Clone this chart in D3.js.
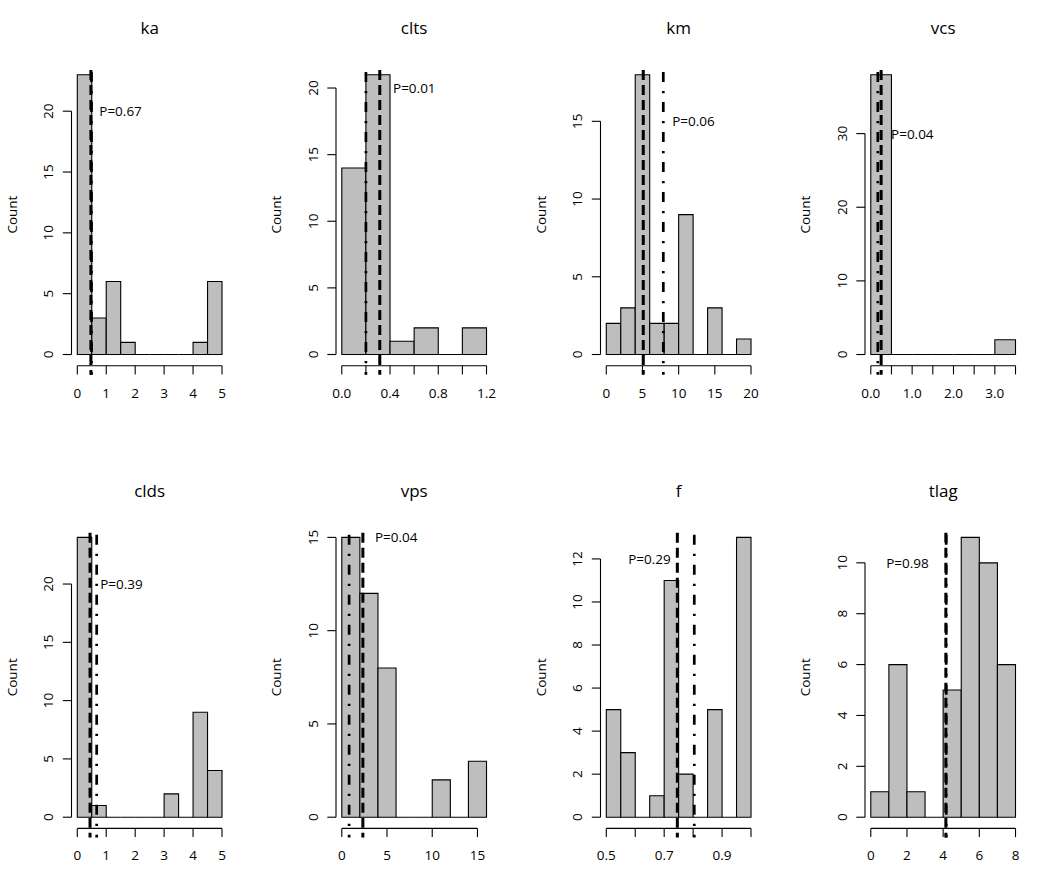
<!DOCTYPE html>
<html>
<head>
<meta charset="utf-8">
<script src="https://cdn.jsdelivr.net/npm/d3@7"></script>
<style>
  html, body { margin: 0; padding: 0; background: #fff; }
  svg { display: block; }
  text { font-family: "Open Sans", "DejaVu Sans", sans-serif; fill: #000; }
</style>
</head>
<body>
<svg id="chart" width="1050" height="891"></svg>
<script>
// ---------- data ----------
const panelNames = ["ka", "clts", "km", "vcs", "clds", "vps", "f", "tlag"];

const kaBreaks   = [0, 0.5, 1, 1.5, 2, 2.5, 3, 3.5, 4, 4.5, 5];
const kaCounts   = [23, 3, 6, 1, 0, 0, 0, 0, 1, 6];
const cltsBreaks = [0, 0.2, 0.4, 0.6, 0.8, 1.0, 1.2];
const cltsCounts = [14, 21, 1, 2, 0, 2];
const kmBreaks   = [0, 2, 4, 6, 8, 10, 12, 14, 16, 18, 20];
const kmCounts   = [2, 3, 18, 2, 2, 9, 0, 3, 0, 1];
const vcsBreaks  = [0, 0.5, 1, 1.5, 2, 2.5, 3, 3.5];
const vcsCounts  = [38, 0, 0, 0, 0, 0, 2];
const cldsBreaks = [0, 0.5, 1, 1.5, 2, 2.5, 3, 3.5, 4, 4.5, 5];
const cldsCounts = [24, 1, 0, 0, 0, 0, 2, 0, 9, 4];
const vpsBreaks  = [0, 2, 4, 6, 8, 10, 12, 14, 16];
const vpsCounts  = [15, 12, 8, 0, 0, 2, 0, 3];
const fBreaks    = [0.5, 0.55, 0.6, 0.65, 0.7, 0.75, 0.8, 0.85, 0.9, 0.95, 1.0];
const fCounts    = [5, 3, 0, 1, 11, 2, 0, 5, 0, 13];
const tlagBreaks = [0, 1, 2, 3, 4, 5, 6, 7, 8];
const tlagCounts = [1, 6, 1, 0, 5, 11, 10, 6];

// vertical reference lines: dashed and dot-dash
const dashedValues  = [0.47, 0.315, 5.11, 0.25, 0.44, 2.33, 0.7455, 4.15];
const dotDashValues = [0.49, 0.2, 7.88, 0.17, 0.67, 0.81, 0.804, 4.17];

// P-value labels
const pLabels  = ["P=0.67", "P=0.01", "P=0.06", "P=0.04", "P=0.39", "P=0.04", "P=0.29", "P=0.98"];
const pLabelX  = [0.76, 0.425, 9.1, 0.49, 0.79, 3.66, 0.7227, 0.85];
const pLabelY  = [20, 20, 15, 30, 20, 15, 12, 10];
const pAnchor  = ["start", "start", "start", "start", "start", "start", "end", "start"];

// axis ticks
const xTicks = [
  [0, 1, 2, 3, 4, 5],
  [0, 0.2, 0.4, 0.6, 0.8, 1.0, 1.2],
  [0, 5, 10, 15, 20],
  [0, 0.5, 1, 1.5, 2, 2.5, 3, 3.5],
  [0, 1, 2, 3, 4, 5],
  [0, 5, 10, 15],
  [0.5, 0.6, 0.7, 0.8, 0.9, 1.0],
  [0, 2, 4, 6, 8]
];
const xTickLabels = [
  ["0", "1", "2", "3", "4", "5"],
  ["0.0", "", "0.4", "", "0.8", "", "1.2"],
  ["0", "5", "10", "15", "20"],
  ["0.0", "", "1.0", "", "2.0", "", "3.0", ""],
  ["0", "1", "2", "3", "4", "5"],
  ["0", "5", "10", "15"],
  ["0.5", "", "0.7", "", "0.9", ""],
  ["0", "2", "4", "6", "8"]
];
const yTicks = [
  [0, 5, 10, 15, 20],
  [0, 5, 10, 15, 20],
  [0, 5, 10, 15],
  [0, 10, 20, 30],
  [0, 5, 10, 15, 20],
  [0, 5, 10, 15],
  [0, 2, 4, 6, 8, 10, 12],
  [0, 2, 4, 6, 8, 10]
];

const allBreaks = [kaBreaks, cltsBreaks, kmBreaks, vcsBreaks, cldsBreaks, vpsBreaks, fBreaks, tlagBreaks];
const allCounts = [kaCounts, cltsCounts, kmCounts, vcsCounts, cldsCounts, vpsCounts, fCounts, tlagCounts];

// ---------- layout ----------
const svg = d3.select("#chart");
const plotLeft0 = 71.5, colStep = 264.5, plotW = 156.3;
const plotTop0 = 63.5, rowStep = 462.7, plotH = 302.2;
const tickLen = 8.7;
const tickFont = 13.5;

panelNames.forEach((name, i) => {
  const col = i % 4, row = Math.floor(i / 4);
  const L = plotLeft0 + col * colStep;
  const T = plotTop0 + row * rowStep;
  const B = T + plotH, R = L + plotW;

  const breaks = allBreaks[i], counts = allCounts[i];
  const xmin = breaks[0], xmax = breaks[breaks.length - 1];
  const xr = xmax - xmin;
  const ymax = d3.max(counts);

  const x = d3.scaleLinear().domain([xmin - 0.04 * xr, xmax + 0.04 * xr]).range([L, R]);
  const y = d3.scaleLinear().domain([-0.04 * ymax, ymax * 1.04]).range([B, T]);

  const g = svg.append("g");

  // bars
  const bins = counts.map((c, k) => ({ x0: breaks[k], x1: breaks[k + 1], c }));
  g.selectAll("path.bar").data(bins).enter().append("path")
    .attr("class", "bar")
    .attr("d", d => {
      const a = x(d.x0), b = x(d.x1), y0 = y(0), y1 = y(d.c);
      return `M${a},${y0}H${b}V${y1}H${a}Z`;
    })
    .attr("fill", "#bebebe")
    .attr("stroke", "#000")
    .attr("stroke-width", 1.1);

  // x axis
  const xt = xTicks[i];
  const xAxis = g.append("g").attr("transform", `translate(0,${B})`);
  xAxis.append("line")
    .attr("x1", x(xt[0])).attr("x2", x(xt[xt.length - 1]))
    .attr("y1", 0).attr("y2", 0)
    .attr("stroke", "#000").attr("stroke-width", 1.1);
  xAxis.selectAll("line.tick").data(xt).enter().append("line")
    .attr("class", "tick")
    .attr("x1", d => x(d)).attr("x2", d => x(d))
    .attr("y1", 0).attr("y2", tickLen)
    .attr("stroke", "#000").attr("stroke-width", 1.1);
  xAxis.selectAll("text").data(xt).enter().append("text")
    .attr("x", d => x(d)).attr("y", 27)
    .attr("text-anchor", "middle")
    .attr("dominant-baseline", "central")
    .attr("font-size", tickFont)
    .text((d, k) => xTickLabels[i][k]);

  // y axis
  const yt = yTicks[i];
  const yAxis = g.append("g").attr("transform", `translate(${L},0)`);
  yAxis.append("line")
    .attr("x1", 0).attr("x2", 0)
    .attr("y1", y(yt[0])).attr("y2", y(yt[yt.length - 1]))
    .attr("stroke", "#000").attr("stroke-width", 1.1);
  yAxis.selectAll("line.tick").data(yt).enter().append("line")
    .attr("class", "tick")
    .attr("x1", 0).attr("x2", -tickLen)
    .attr("y1", d => y(d)).attr("y2", d => y(d))
    .attr("stroke", "#000").attr("stroke-width", 1.1);
  yAxis.selectAll("text").data(yt).enter().append("text")
    .attr("transform", d => `translate(-23.2,${y(d)}) rotate(-90)`)
    .attr("text-anchor", "middle")
    .attr("dominant-baseline", "central")
    .attr("font-size", tickFont)
    .text(d => d);

  // y label
  g.append("text")
    .attr("transform", `translate(${L - 60},${(T + B) / 2}) rotate(-90)`)
    .attr("text-anchor", "middle")
    .attr("dominant-baseline", "central")
    .attr("font-size", tickFont)
    .text("Count");

  // title
  g.append("text")
    .attr("x", (L + R) / 2).attr("y", T - 29.2)
    .attr("text-anchor", "middle")
    .attr("font-size", 17)
    .text(name);

  // reference lines
  const lineTop = T + 6.5, lineBot = B + 9;
  g.append("line")
    .attr("x1", x(dotDashValues[i])).attr("x2", x(dotDashValues[i]))
    .attr("y1", lineTop + 2).attr("y2", lineBot)
    .attr("stroke", "#000").attr("stroke-width", 2.7)
    .attr("stroke-dasharray", "10,9,2.3,8.7");
  g.append("line")
    .attr("x1", x(dashedValues[i])).attr("x2", x(dashedValues[i]))
    .attr("y1", lineTop).attr("y2", lineBot)
    .attr("stroke", "#000").attr("stroke-width", 3)
    .attr("stroke-dasharray", "10,5");

  // P label
  g.append("text")
    .attr("x", x(pLabelX[i])).attr("y", y(pLabelY[i]))
    .attr("text-anchor", pAnchor[i])
    .attr("dominant-baseline", "central")
    .attr("font-size", tickFont)
    .text(pLabels[i]);
});
</script>
</body>
</html>
